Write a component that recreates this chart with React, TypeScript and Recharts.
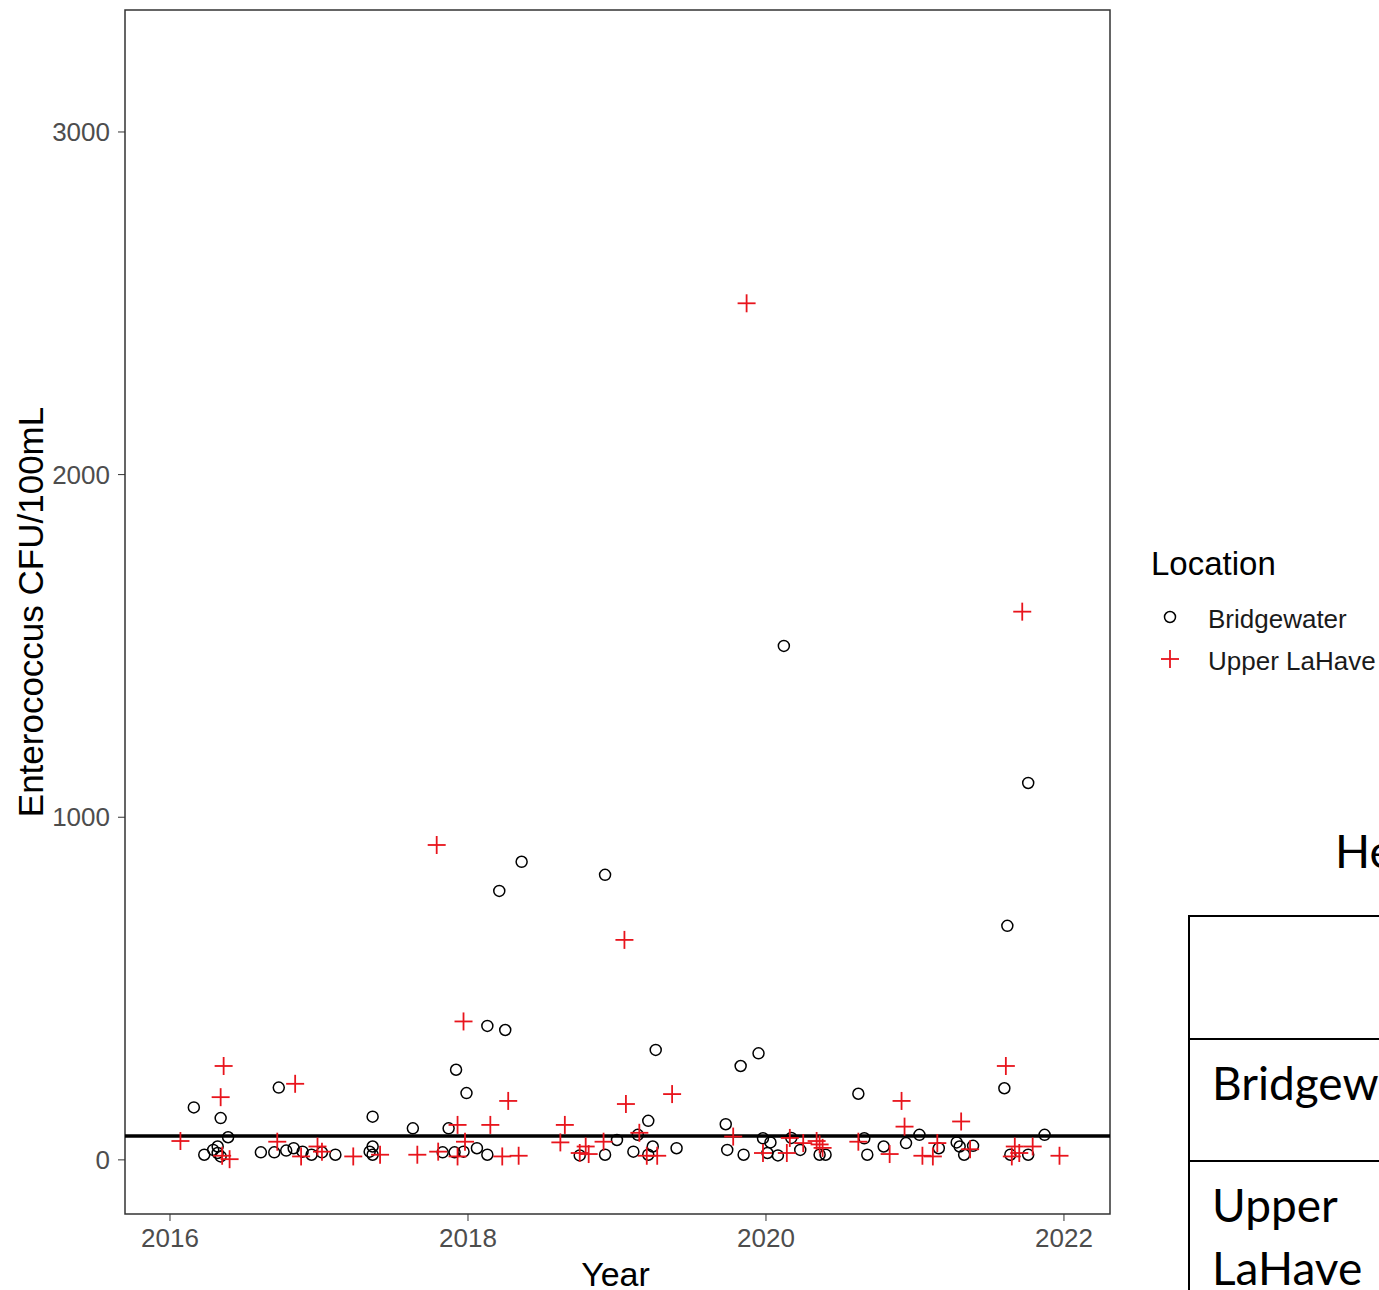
import React from "react";
import { ScatterChart, Scatter, XAxis, YAxis, ReferenceLine, ReferenceArea } from "recharts";

// axis setup
const X_DOMAIN = [2015.698, 2022.309];
const Y_DOMAIN = [-158, 3356];
const X_TICKS = [2016, 2018, 2020, 2022];
const Y_TICKS = [0, 1000, 2000, 3000];
const GUIDELINE = 70; // Health Canada guideline, CFU/100mL

// Bridgewater samples (decimal year, CFU/100mL)
const bridgewaterYears = [
  2016.16, 2016.34, 2016.39, 2016.23, 2016.29, 2016.32, 2016.34, 2016.32, 2016.61, 2016.70,
  2016.73, 2016.78, 2016.83, 2016.89, 2016.95, 2017.02, 2017.11, 2017.36, 2017.34, 2017.36,
  2017.36, 2017.63, 2017.83, 2017.87, 2017.91, 2017.92, 2017.97, 2017.99, 2018.06, 2018.13,
  2018.13, 2018.21, 2018.25, 2018.36, 2018.75, 2018.92, 2018.92, 2019.00, 2019.11, 2019.14,
  2019.21, 2019.21, 2019.24, 2019.26, 2019.40, 2019.73, 2019.74, 2019.83, 2019.85, 2019.95,
  2019.98, 2020.03, 2020.01, 2020.08, 2020.12, 2020.17, 2020.23, 2020.36, 2020.40, 2020.62,
  2020.66, 2020.68, 2020.79, 2020.94, 2021.03, 2021.16, 2021.28, 2021.30, 2021.33, 2021.39,
  2021.60, 2021.62, 2021.64, 2021.76, 2021.76, 2021.87,
];
const bridgewaterCounts = [
  153, 122, 66, 15, 29, 39, 10, 20, 22, 22,
  211, 27, 34, 24, 15, 22, 15, 126, 24, 39,
  15, 92, 22, 92, 22, 263, 24, 195, 34, 15,
  391, 785, 379, 870, 13, 15, 832, 58, 24, 73,
  15, 114, 39, 321, 34, 104, 29, 274, 15, 311,
  63, 51, 20, 13, 1500, 64, 29, 15, 15, 193,
  63, 15, 39, 49, 73, 34, 51, 39, 15, 41,
  209, 683, 15, 15, 1100, 73,
];

// Upper LaHave samples
const upperLaHaveYears = [
  2016.07, 2016.34, 2016.36, 2016.40, 2016.35, 2016.72, 2016.84, 2016.88, 2016.99, 2017.02,
  2017.23, 2017.41, 2017.66, 2017.79, 2017.80, 2017.93, 2017.93, 2017.97, 2017.98, 2018.15,
  2018.23, 2018.27, 2018.34, 2018.62, 2018.65, 2018.75, 2018.79, 2018.81, 2018.91, 2019.05,
  2019.06, 2019.15, 2019.20, 2019.27, 2019.37, 2019.78, 2019.87, 2019.98, 2020.14, 2020.16,
  2020.25, 2020.34, 2020.36, 2020.38, 2020.62, 2020.83, 2020.91, 2020.93, 2021.05, 2021.12,
  2021.15, 2021.31, 2021.37, 2021.61, 2021.65, 2021.67, 2021.70, 2021.72, 2021.79, 2021.97,
];
const upperLaHaveCounts = [
  55, 183, 274, 2, 12, 53, 222, 10, 39, 24,
  10, 15, 15, 919, 24, 10, 102, 404, 53, 102,
  10, 172, 12, 51, 102, 20, 39, 17, 53, 642,
  163, 79, 12, 12, 192, 68, 2500, 20, 20, 64,
  49, 55, 45, 35, 53, 17, 172, 97, 12, 10,
  49, 112, 31, 274, 10, 39, 20, 1600, 39, 12,
];

const locations = ["Bridgewater", "Upper LaHave"];

const bridgewater = bridgewaterYears.map((x, i) => ({ x, y: bridgewaterCounts[i] }));
const upperLaHave = upperLaHaveYears.map((x, i) => ({ x, y: upperLaHaveCounts[i] }));

const FONT = "'Liberation Sans', Arial, sans-serif";
const SIDE_FONT = "Lato, 'Open Sans', sans-serif";
const RED = "#E8141C";

const Ring = ({ cx, cy }: any) => (
  <circle cx={cx} cy={cy} r={5.5} fill="none" stroke="#000" strokeWidth={1.5} />
);

const Cross = ({ cx, cy }: any) => (
  <g stroke={RED} strokeWidth={1.8}>
    <line x1={cx - 9} y1={cy} x2={cx + 9} y2={cy} />
    <line x1={cx} y1={cy - 9} x2={cx} y2={cy + 9} />
  </g>
);

const YTitle = ({ viewBox }: any) => {
  const cx = 30;
  const cy = viewBox.y + viewBox.height / 2;
  return (
    <text x={cx} y={cy} transform={`rotate(-90 ${cx} ${cy})`} textAnchor="middle"
      dominantBaseline="central" fontSize={35} fill="#000" fontFamily={FONT}>
      Enterococcus CFU/100mL
    </text>
  );
};

const XTitle = ({ viewBox }: any) => (
  <text x={viewBox.x + viewBox.width / 2 - 2} y={1274} textAnchor="middle"
    dominantBaseline="central" fontSize={34} fill="#000" fontFamily={FONT}>
    Year
  </text>
);

export default function App() {
  const tickStyle = { fill: "#4d4d4d", fontSize: 26, fontFamily: FONT };
  return (
    <div style={{ position: "absolute", left: 0, top: 0, width: 1379, height: 1290, overflow: "hidden", background: "#fff" }}>
      <ScatterChart width={1379} height={1290} margin={{ top: 10, right: 269, bottom: 0, left: 0 }}>
        <XAxis type="number" dataKey="x" domain={X_DOMAIN} ticks={X_TICKS} allowDataOverflow
          axisLine={false} tickLine={{ stroke: "#333" }} tickSize={7} tickMargin={8}
          height={76} interval={0} tick={tickStyle} label={<XTitle />} />
        <YAxis type="number" dataKey="y" domain={Y_DOMAIN} ticks={Y_TICKS} allowDataOverflow
          axisLine={false} tickLine={{ stroke: "#333" }} tickSize={7} tickMargin={8}
          width={125} interval={0} tick={tickStyle} label={<YTitle />} />
        <ReferenceArea x1={X_DOMAIN[0]} x2={X_DOMAIN[1]} y1={Y_DOMAIN[0]} y2={Y_DOMAIN[1]}
          fill="none" stroke="#333" strokeWidth={1.5} />
        <Scatter name={locations[0]} data={bridgewater} shape={<Ring />} isAnimationActive={false} />
        <Scatter name={locations[1]} data={upperLaHave} shape={<Cross />} isAnimationActive={false} />
        <ReferenceLine y={GUIDELINE} stroke="#000" strokeWidth={3.5} />
      </ScatterChart>

      {/* legend */}
      <svg width={1379} height={1290} style={{ position: "absolute", left: 0, top: 0, pointerEvents: "none" }}>
        <text x={1151} y={575} fontSize={33} fill="#000" fontFamily={FONT}>Location</text>
        <circle cx={1170} cy={617} r={5.5} fill="none" stroke="#000" strokeWidth={1.5} />
        <text x={1208} y={628} fontSize={26} fill="#1a1a1a" fontFamily={FONT}>{locations[0]}</text>
        <g stroke={RED} strokeWidth={1.8}>
          <line x1={1161} y1={659} x2={1179} y2={659} />
          <line x1={1170} y1={650} x2={1170} y2={668} />
        </g>
        <text x={1208} y={670} fontSize={26} fill="#1a1a1a" fontFamily={FONT}>{locations[1]}</text>

        {/* summary table beside the plot, cut by the right edge as in the source */}
        <text x={1335} y={868} fontSize={46} fill="#000" fontFamily={SIDE_FONT}>Health Canada</text>
        <g stroke="#000" strokeWidth={2}>
          <line x1={1189} y1={915} x2={1189} y2={1290} />
          <line x1={1188} y1={916} x2={1379} y2={916} />
          <line x1={1188} y1={1039} x2={1379} y2={1039} />
          <line x1={1188} y1={1161} x2={1379} y2={1161} />
        </g>
        <text x={1212} y={1100} fontSize={46} fill="#000" fontFamily={SIDE_FONT}>Bridgewater</text>
        <text x={1212} y={1222} fontSize={46} fill="#000" fontFamily={SIDE_FONT}>Upper</text>
        <text x={1212} y={1285} fontSize={46} fill="#000" fontFamily={SIDE_FONT}>LaHave</text>
      </svg>
    </div>
  );
}
